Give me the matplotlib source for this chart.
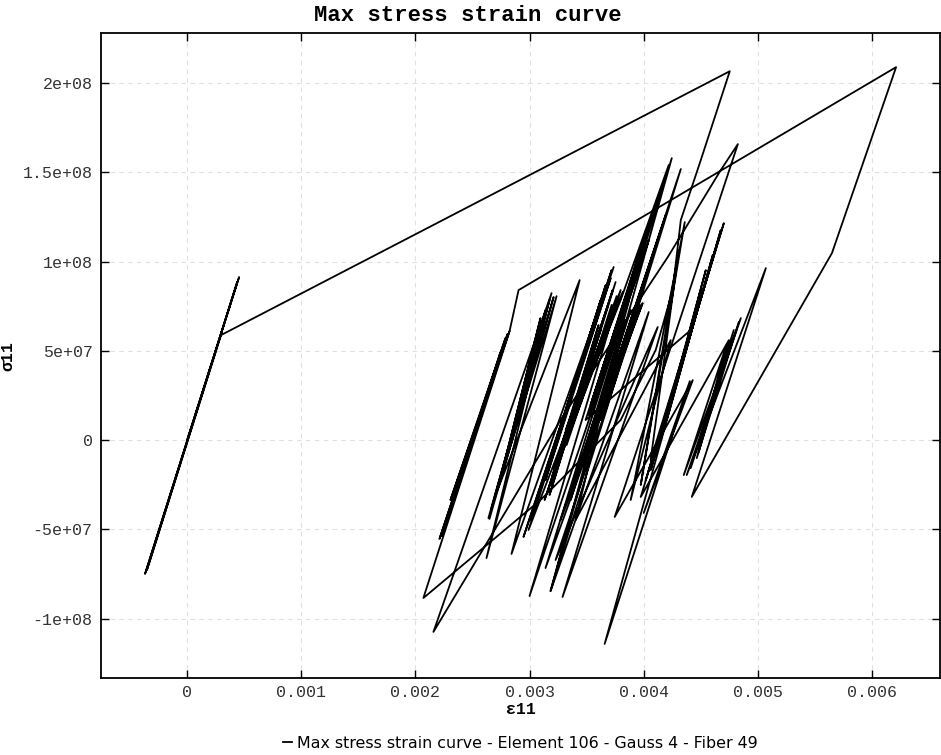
import matplotlib
matplotlib.use('Agg')
import matplotlib.pyplot as plt
from matplotlib import font_manager
from matplotlib.ticker import FuncFormatter

# Deformação (em milésimos) e tensão (em MPa)
strain_permil = [
    0.000, 0.456, -0.368, 0.439, -0.351, 0.298,
    4.754,
    4.500, 4.325, 4.254, 4.105, 3.798, 3.096, 2.070,
    2.825, 2.228, 2.798, 2.254, 2.772, 2.281, 2.807, 2.211, 2.789, 2.325, 2.746, 2.351,
    2.772, 2.377, 2.746, 2.307, 2.789, 2.395, 2.825,
    2.904, 6.211, 5.649, 4.421,
    5.070, 4.377, 4.851, 4.351, 4.719, 4.465, 4.833, 4.412, 4.789, 4.482, 4.746,
    3.974, 4.702, 4.018, 4.658, 4.061, 4.675, 4.105, 4.544, 4.149, 4.500, 4.202, 4.605,
    3.658, 4.404, 4.000, 4.430, 3.746, 4.825,
    4.675, 4.211, 3.886, 3.272, 2.158,
    3.193, 2.640, 3.237, 2.623, 3.175, 2.667, 3.211, 2.649, 3.140, 2.754, 3.096, 2.719, 3.439,
    2.842, 3.737, 2.947, 3.719, 3.009, 3.667, 3.053, 3.623, 3.096, 3.711, 3.140, 3.579, 2.991, 3.798,
    3.000, 3.868, 3.184, 4.044, 3.289, 4.123, 3.228, 3.974, 3.140, 4.246, 3.184, 4.325,
    3.535, 4.149, 3.623, 4.193, 3.579, 3.991, 3.272, 3.886, 3.360, 3.842, 3.404, 3.798,
    3.404, 4.237, 3.886, 4.360, 3.974, 4.307, 4.061, 4.412,
    3.491, 3.974, 3.535, 4.018, 3.579, 4.061, 3.518, 4.105, 3.623, 4.149, 3.553, 4.044, 3.667, 4.219,
    3.798,
    3.272, 3.202, 3.649, 3.158, 3.684, 3.237, 3.623, 3.132, 3.728, 3.184, 3.588, 3.254, 3.667,
    3.175, 3.754, 3.211, 3.605, 3.272,
    3.298, 3.781, 3.246, 3.816, 3.316, 3.693, 3.263, 3.763, 3.325, 3.719,
]
stress_mpa = [
    0.0, 91.3, -75.0, 88.5, -72.8, 58.8,
    206.6,
    156.8, 123.2, 84.0, 50.4, 11.2, -33.6, -88.5,
    61.0, -53.8, 57.1, -49.3, 52.6, -44.8, 59.4, -55.4, 56.0, -36.4, 49.3, -29.1,
    53.2, -23.5, 47.6, -33.6, 57.1, -19.6, 61.0,
    84.0, 208.9, 104.7, -31.9,
    96.3, -19.6, 68.3, -19.6, 52.1, -10.1, 66.1, -15.7, 61.6, -6.7, 56.0,
    -31.9, 121.5, -22.4, 113.1, -16.8, 117.6, -8.4, 95.2, 0.0, 84.0, 11.2, 103.6,
    -114.2, 33.0, -40.9, 33.6, -43.1, 165.8,
    151.2, 102.5, 71.1, 11.2, -107.5,
    82.3, -43.7, 80.6, -66.1, 78.4, -38.1, 80.1, -44.2, 72.8, -19.6, 68.3, -28.0, 89.6,
    -63.8, 96.9, -54.3, 95.2, -44.8, 86.8, -36.4, 78.4, -28.0, 90.7, -22.4, 67.2, -50.4, 84.0,
    -87.4, 77.3, -84.6, 71.7, -87.9, 63.3, -67.2, 75.6, -71.7, 157.9, -84.6, 151.8,
    0.0, 117.6, 11.2, 126.0, 5.6, 76.7, -44.8, 72.8, -33.6, 67.2, -22.4, 61.6,
    -44.8, 56.0, -33.6, 122.1, -25.2, 106.4, -11.2, 61.6,
    11.2, 106.4, 19.6, 116.5, 25.2, 123.2, 14.0, 131.6, 30.8, 140.0, 16.8, 112.0, 39.2, 154.0,
    78.4,
    -5.6, -19.6, 68.3, -29.1, 75.0, -12.3, 61.6, -33.6, 84.0, -25.2, 58.8, -8.4, 71.7,
    -30.8, 88.5, -16.8, 64.4, -5.6,
    0.0, 78.4, -14.0, 82.9, 5.6, 67.2, -10.1, 80.6, -2.8, 75.6,
]

x_ticks = [0, 0.001, 0.002, 0.003, 0.004, 0.005, 0.006]
y_ticks = [-1e8, -5e7, 0, 5e7, 1e8, 1.5e8, 2e8]

eps = [v * 1e-3 for v in strain_permil]
sig = [v * 1e6 for v in stress_mpa]

# fonte estreita para a legenda, se existir
nomes = {f.name for f in font_manager.fontManager.ttflist}
if 'Liberation Sans Narrow' in nomes:
    fonte_leg, tam_leg = 'Liberation Sans Narrow', 13
else:
    fonte_leg, tam_leg = 'DejaVu Sans', 11.4

fig = plt.figure(figsize=(9.41, 7.55), dpi=100)
ax = fig.add_axes([0.1073, 0.102, 0.8917, 0.854])

ax.plot(eps, sig, color='black', linewidth=1.3,
        label='Max stress strain curve - Element 106 - Gauss 4 - Fiber 49')

ax.set_xlim(-0.000754, 0.006596)
ax.set_ylim(-133.3e6, 227.9e6)
ax.set_xticks(x_ticks)
ax.set_yticks(y_ticks)
ax.xaxis.set_major_formatter(FuncFormatter(lambda v, p: '%g' % v))
ax.yaxis.set_major_formatter(FuncFormatter(lambda v, p: '%g' % v))

mono = 'Liberation Mono'
for lab in ax.get_xticklabels() + ax.get_yticklabels():
    lab.set_fontfamily(mono)
    lab.set_fontsize(12)
    lab.set_color('#333333')

ax.tick_params(direction='in', length=6, width=1, top=True, right=True)
ax.tick_params(axis='x', pad=5)
ax.tick_params(axis='y', pad=6)
ax.grid(True, color='#e0e0e0', linestyle=(0, (4, 4)), linewidth=0.8)
for s in ax.spines.values():
    s.set_linewidth(1.3)

ax.set_title('Max stress strain curve', fontfamily=mono, fontweight='bold',
             fontsize=16, pad=9, x=0.437)
ax.set_xlabel('ε11', fontfamily=mono, fontweight='bold', fontsize=12)
ax.set_ylabel('σ11', fontfamily=mono, fontweight='bold', fontsize=12)
ax.xaxis.set_label_coords(0.5, -0.037)
ax.yaxis.set_label_coords(-0.102, 0.5)

fig.legend(loc='lower center', bbox_to_anchor=(0.553, -0.013), frameon=False,
           handlelength=0.6, handletextpad=0.3,
           prop={'family': fonte_leg, 'size': tam_leg})

fig.savefig('out.png', dpi=100)
